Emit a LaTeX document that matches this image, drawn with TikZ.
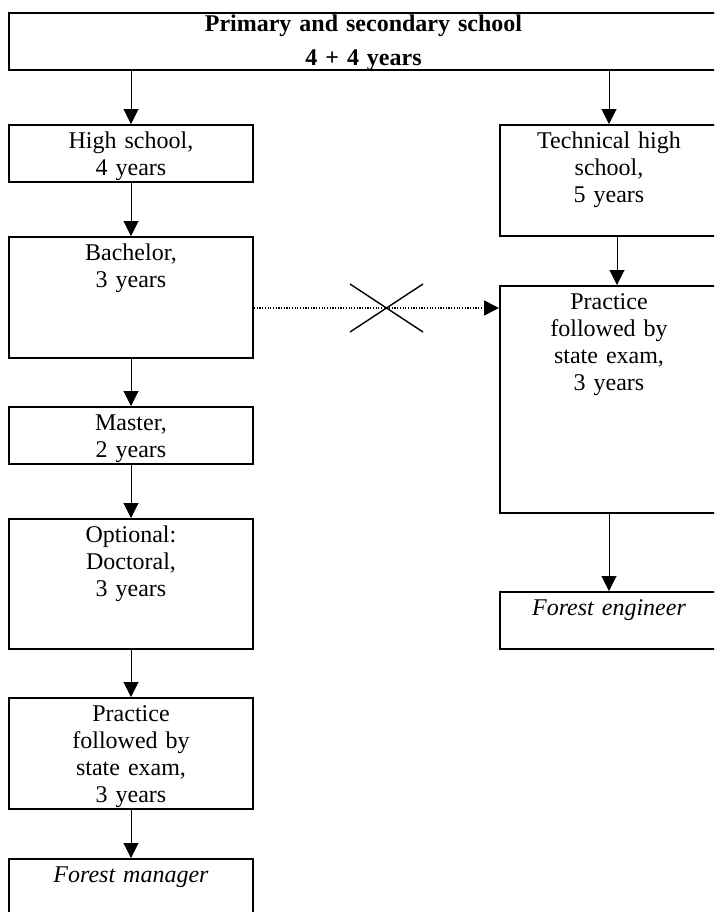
\documentclass[tikz,border=0pt]{standalone}
\usepackage{fontspec}
\setmainfont{Liberation Serif}
\usetikzlibrary{calc}
\usetikzlibrary{arrows.meta}

\tikzset{
  box/.style={draw, line width=1pt, rectangle, inner sep=0pt},
  txt/.style={anchor=base, inner sep=0pt, text width=100pt, align=center,
    font=\fontsize{12pt}{13.6pt}\selectfont},
  arr/.style={-{Triangle[width=7.5pt,length=7.5pt]}, line width=0.5pt},
  dotarr/.style={-{Triangle[width=7.5pt,length=7.5pt]}, line width=0.8pt,
    dash pattern=on 0.6pt off 0.75pt},
}

% name, x, top y, width, height, text
\newcommand{\stagebox}[6]{%
  \node[box, minimum width=#4, minimum height=#5, anchor=north] (#1) at (#2,#3) {};
  \node[txt] (#1-t) at ([yshift=-12pt]#1.north) {#6};
}

\begin{document}
\begin{tikzpicture}[x=0.5pt,y=-0.5pt]
    \useasboundingbox (0,0) rectangle (714,912);
    \clip (0,0) rectangle (714,912);
    % Top box.
    \node[box, minimum width=354.5pt, minimum height=28.5pt, anchor=north] (prim) at (363.5,12) {};
    \node[txt, text width=300pt, font=\fontsize{12pt}{17pt}\selectfont\bfseries] (prim-t)
      at ([yshift=-9.5pt]prim.north) {Primary and secondary school\\4 + 4 years};
    % Left column.
    \stagebox{high}{131}{124}{122pt}{28.5pt}{High school,\\4 years}
    \stagebox{bach}{131}{236}{122pt}{60.5pt}{Bachelor,\\3 years}
    \stagebox{mast}{131}{406}{122pt}{28.5pt}{Master,\\2 years}
    \stagebox{opt}{131}{518}{122pt}{65pt}{Optional:\\Doctoral,\\3 years}
    \stagebox{pracl}{131}{697}{122pt}{55.5pt}{Practice\\followed by\\state exam,\\3 years}
    \stagebox{mgr}{131}{858}{122pt}{28.5pt}{\textit{Forest manager}}
    % Right column.
    \stagebox{tech}{609}{124}{109pt}{55.5pt}{Technical high\\school,\\5 years}
    \stagebox{pracr}{609}{285}{109pt}{113.5pt}{Practice\\followed by\\state exam,\\3 years}
    \stagebox{eng}{609}{591}{109pt}{28.5pt}{\textit{Forest engineer}}
    % Arrows.
    \draw[arr] (prim.south -| high.north) -- (high.north);
    \draw[arr] (prim.south -| tech.north) -- (tech.north);
    \draw[arr] (high) -- (bach);
    \draw[arr] (bach) -- (mast);
    \draw[arr] (mast) -- (opt);
    \draw[arr] (opt) -- (pracl);
    \draw[arr] (pracl) -- (mgr);
    \draw[arr] ([xshift=4pt]tech.south) -- ([xshift=4pt]pracr.north);
    \draw[arr] (pracr) -- (eng);
    % Dotted link, crossed out.
    \coordinate (cross) at (386.5,308);
    \draw[dotarr] (cross -| bach.east) -- (cross -| pracr.west);
    \draw[line width=0.7pt] ($(cross)+(-36.5,-24)$) -- ($(cross)+(36.5,24)$)
      ($(cross)+(-36.5,24)$) -- ($(cross)+(36.5,-24)$);
\end{tikzpicture}
\end{document}
